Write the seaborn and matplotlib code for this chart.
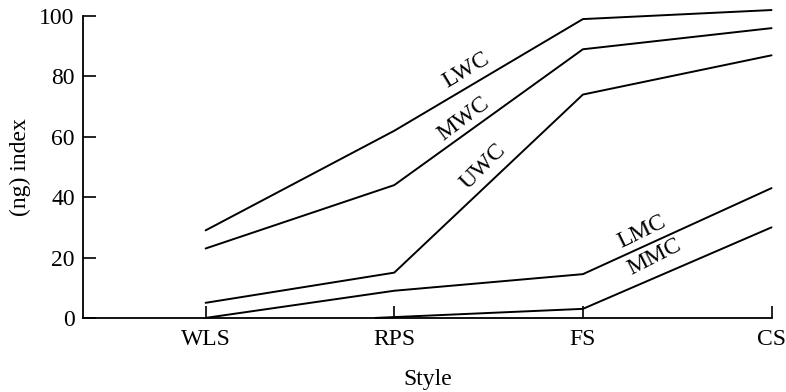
import matplotlib
matplotlib.use("Agg")
import matplotlib.pyplot as plt
import seaborn as sns
import pandas as pd

# ============================================================
# DATA
# ============================================================

styles = ["WLS", "RPS", "FS", "CS"]

lwc = [29, 62, 99, 102]
mwc = [23, 44, 89, 96]
uwc = [5, 15, 74, 87]
lmc = [0, 9, 14.5, 43]
mmc = [0, 3, 30]
mmc_pos = [0.9, 2, 3]

series = {
    "LWC": (list(range(4)), lwc),
    "MWC": (list(range(4)), mwc),
    "UWC": (list(range(4)), uwc),
    "LMC": (list(range(4)), lmc),
    "MMC": (mmc_pos, mmc),
}

# label placement (x, y, rotation)
label_pos = {
    "LWC": (1.38, 82, 31),
    "MWC": (1.37, 66, 37),
    "UWC": (1.47, 50, 45),
    "LMC": (2.31, 28.5, 26),
    "MMC": (2.38, 20, 27),
}

# ============================================================
# PLOT
# ============================================================

sns.set_style("ticks")
plt.rcParams["font.family"] = ["Liberation Serif", "DejaVu Serif"]
plt.rcParams["text.color"] = "black"
plt.rcParams["axes.labelcolor"] = "black"

fig = plt.figure(figsize=(7.86, 3.92), dpi=100)
ax = fig.add_axes([0.1056, 0.189, 0.876, 0.770])

for name, (xs, ys) in series.items():
    df = pd.DataFrame({"x": xs, "y": ys})
    sns.lineplot(data=df, x="x", y="y", ax=ax, color="black",
                 linewidth=1.4, sort=False, clip_on=False)
    lx, ly, rot = label_pos[name]
    ax.text(lx, ly, name, rotation=rot, ha="center", va="center",
            fontsize=17, rotation_mode="anchor", color="black")

ax.set_xlim(-0.65, 3)
ax.set_ylim(0, 100)
ax.set_xticks(range(4))
ax.set_xticklabels(styles)
ax.set_yticks([0, 20, 40, 60, 80, 100])

ax.tick_params(direction="in", length=9, width=1.2, labelsize=17,
               colors="black")
ax.tick_params(axis="x", pad=8)
ax.tick_params(axis="y", pad=6)

for side in ["top", "right"]:
    ax.spines[side].set_visible(False)
for side in ["left", "bottom"]:
    ax.spines[side].set_linewidth(1.3)
    ax.spines[side].set_color("black")

ax.set_xlabel("Style", fontsize=17, labelpad=14)
ax.set_ylabel("(ng) index", fontsize=17, labelpad=6)

fig.savefig("out.png", dpi=100)
